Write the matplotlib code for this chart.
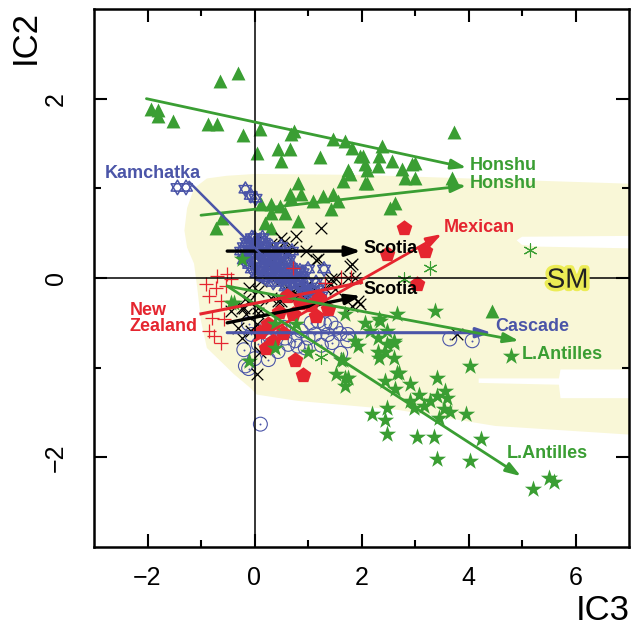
import numpy as np
import matplotlib
matplotlib.use("Agg")
import matplotlib.pyplot as plt
from matplotlib.path import Path
from matplotlib.patches import Polygon
import matplotlib.patheffects as pe

plt.rcParams['font.family'] = ['Liberation Sans', 'DejaVu Sans']

# ---- data ----
honshu_x = [-0.65, -0.31, -1.94, -1.80, -1.80, -1.52, -0.87, -0.70, -0.22, 0.11, 0.74, 0.69,
            0.04, 0.43, 0.67, 0.50, 1.22, 1.46, 1.70, 1.83, 2.02, 1.74, 1.65, 1.78, 2.06, 2.07,
            0.81, 0.67, 0.87, 0.69, 1.09, 1.28, 1.46, 1.56, 1.43, 0.81, 0.31, 0.13, 0.30, 0.48,
            0.57, 0.20, 0.31, -0.61, -0.72, 1.98, 2.33, 2.30, 2.11, 2.76, 2.94, 2.81, 3.00, 2.11,
            3.69, 2.54, 2.63, 4.43, 3.72, 2.39, 2.57, 3.00]
honshu_y = [2.20, 2.29, 1.89, 1.87, 1.81, 1.75, 1.72, 1.72, 1.60, 1.66, 1.64, 1.61,
            1.39, 1.44, 1.44, 1.31, 1.35, 1.55, 1.53, 1.45, 1.36, 1.20, 1.08, 1.16, 1.27, 1.06,
            1.06, 0.94, 0.94, 0.89, 0.86, 0.92, 0.94, 0.86, 0.77, 0.64, 0.83, 0.83, 0.73, 0.80,
            0.72, 0.61, 0.56, 0.67, 0.56, 1.36, 1.36, 1.25, 1.20, 1.22, 1.27, 1.11, 1.11, 1.06,
            1.12, 0.78, 0.84, -0.37, 1.63, 1.47, 1.31, 1.28]

kamchatka_x = [-1.44, -1.28, -0.17, -0.07, 0.02,
               -0.20, -0.10, 0.00, 0.10, 0.20, 0.30, -0.15, -0.05, 0.05, 0.15, 0.25, 0.35, 0.45,
               -0.10, 0.00, 0.10, 0.20, 0.30, 0.40, 0.50, 0.60, 0.05, 0.15, 0.25, 0.35, 0.45,
               0.55, 0.65, 0.70, 0.80, 0.90, 1.00, 1.10, 1.20, 0.75, 0.95, 1.25, 0.60, 0.40,
               0.55, 0.65, 0.70, 1.00, -0.05, 0.50, 0.85, 0.90, 1.30,
               -0.25, -0.20, -0.15, 0.00, 0.08, 0.12, 0.18, 0.22, 0.28, 0.32, 0.38, 0.42, 0.48,
               0.52, 0.58, 0.62, 0.68, 0.72, 0.78, 0.82, 0.88, 0.92, 0.98, 1.05, 1.15, 1.18,
               0.35, 0.20, -0.05, 0.08, -0.12, 0.15, 0.45, 0.58, 0.30, 0.10]
kamchatka_y = [1.01, 1.01, 0.99, 0.92, 0.89,
               0.35, 0.40, 0.38, 0.42, 0.35, 0.30, 0.25, 0.28, 0.30, 0.25, 0.22, 0.25, 0.20,
               0.15, 0.18, 0.12, 0.15, 0.10, 0.12, 0.15, 0.10, 0.05, 0.02, 0.05, 0.00, 0.02,
               0.00, 0.05, -0.05, -0.02, -0.10, -0.05, -0.15, -0.10, -0.15, -0.20, -0.20, -0.08, 0.30,
               0.28, 0.20, 0.30, 0.10, 0.45, 0.35, 0.08, 0.06, 0.10,
               0.30, 0.20, 0.40, 0.45, 0.35, 0.28, 0.40, 0.20, 0.12, 0.35, 0.18, 0.05, 0.25,
               0.08, 0.18, -0.02, 0.12, 0.02, 0.08, -0.08, 0.00, -0.15, -0.12, -0.20, -0.05, -0.22,
               -0.05, 0.00, 0.10, 0.20, 0.32, 0.45, 0.10, -0.10, 0.20, 0.08]

scotia_x = [0.50, 0.78, 1.24, 0.96, 1.19, 1.78, 1.15, 1.83, 1.43, 1.31, 1.50, 1.13, 1.00, 1.19,
            0.87, 0.72, 0.13, 0.07, 0.31, 0.50, 0.07, -0.11, -0.11, -0.15, -0.24, 1.83, 1.98,
            1.74, 1.50, 1.87, 1.93, 1.43, 0.94, 0.44, -0.17, -0.20, -0.43, 0.04, -0.07, 0.11,
            0.07, 0.04, -0.30, -0.24, 3.78,
            0.00, 0.10, 0.20, 0.30, 0.40, 0.10, 0.25, 0.00, -0.10, 0.35, 0.50, 0.60, 0.15,
            0.30, 0.00, 0.45, 0.60, 0.70, 0.85, 0.80, 1.00, 1.10, 0.55, 0.70]
scotia_y = [0.45, 0.47, 0.56, 0.30, 0.21, 0.13, 0.20, 0.16, -0.01, -0.11, -0.12, -0.11, -0.07,
            -0.22, -0.22, -0.15, -0.03, -0.15, -0.22, -0.26, -0.34, -0.11, -0.26, -0.40, -0.34,
            -0.31, -0.29, 0.00, 0.00, 0.00, -0.26, -0.07, -0.11, -0.26, -0.23, -0.34, -0.37,
            -0.51, -0.59, -0.82, -0.39, -1.07, -0.56, -0.67, -0.63,
            0.40, 0.35, 0.30, 0.38, 0.30, 0.20, 0.15, 0.25, 0.20, 0.20, 0.20, 0.25, 0.05,
            0.00, 0.08, -0.05, -0.10, -0.05, -0.10, -0.20, -0.20, -0.25, 0.40, 0.35]

nz_x = [-0.70, -0.52, -0.44, -0.91, -0.72, -0.54, -0.85, -0.63, -0.80, -0.57, -0.85, -0.76,
        -0.63, 0.72, 1.61, 1.80, 1.31]
nz_y = [0.02, 0.04, -0.01, -0.07, -0.11, -0.09, -0.20, -0.26, -0.45, -0.46, -0.59, -0.65,
        -0.73, 0.11, 0.01, 0.01, -0.06]

mexican_x = [2.80, 2.48, 3.19, 3.04, 0.26, 0.22, 0.76, 0.91, 0.54, 1.37, 0.72, 0.60, 0.85,
             1.05, 1.20, 0.45, 1.15, 0.10, 0.35]
mexican_y = [0.56, 0.27, 0.30, -0.07, -0.51, -0.78, -0.91, -1.08, -0.61, -0.35, -0.40, -0.20,
             -0.28, -0.30, -0.22, -0.38, -0.42, -0.60, -0.70]

cascade_x = [-0.06, -0.11, 0.31, 0.57, 0.87, 1.06, 1.19, 1.31, 1.43, 1.52, 1.37, 1.13, 1.00,
             0.76, 0.63, 0.44, 0.26, 0.07, 1.74, 1.61, 0.26, 1.74, 0.13, -0.11, 0.48, -0.17,
             0.11, 0.81, 0.95, 1.25, 1.45, 0.55, 1.60, -0.20, 0.00, 3.65, 4.07]
cascade_y = [-0.63, -1.01, -0.74, -0.67, -0.59, -0.50, -0.48, -0.51, -0.50, -0.56, -0.63, -0.63,
             -0.67, -0.70, -0.74, -0.82, -0.70, -0.74, -0.70, -0.84, -0.91, -0.63, -0.59, -0.51,
             -0.57, -0.98, -1.63, -0.76, -0.78, -0.75, -0.72, -0.55, -0.62, -0.80, -0.90, -0.68,
             -0.70]

antilles_x = [1.87, 2.30, 2.48, 2.61, 2.33, 2.61, 1.61, 1.52, 1.69, 1.70, 2.67, 2.44, 2.63,
              2.91, 3.07, 2.91, 2.98, 3.17, 3.28, 3.41, 3.56, 3.59, 3.41, 3.54, 3.65, 3.44,
              3.96, 4.02, 4.24, 2.48, 2.20, 2.44, 2.48, 3.04, 3.35, 3.41, 4.02, 5.20, 5.50,
              5.59, 4.80, 3.37, 2.67, 2.33, 2.07, 2.15, 2.48, 2.30, 2.61, 2.70, -0.24, -0.44,
              -0.11, 0.39, 0.78, 1.69, 2.35, 1.93, 1.00, 0.39, 1.65, 1.74, 2.43, -0.39]
antilles_y = [-0.70, -0.82, -0.74, -0.73, -0.89, -0.89, -0.91, -1.07, -1.12, -1.21, -1.06,
              -1.15, -1.24, -1.18, -1.30, -1.37, -1.45, -1.43, -1.37, -1.32, -1.26, -1.34,
              -1.12, -1.46, -1.49, -1.56, -1.52, -0.98, -1.80, -1.45, -1.52, -1.58, -1.74,
              -1.77, -1.77, -2.02, -2.04, -2.35, -2.23, -2.27, -0.87, -0.37, -0.40, -0.46,
              -0.50, -0.59, -0.59, -0.67, -0.70, -1.06, 0.21, -0.28, -0.93, -0.51, -0.51,
              -0.40, -0.48, -0.76, -0.82, -0.78, -0.91, -1.12, -0.82, -0.28]

other_x = [5.15, 3.28, 2.80, 1.24]
other_y = [0.31, 0.11, -0.01, -0.88]

# trend arrows: (x0, y0, x1, y1)
honshu_arrows = [(-2.02, 2.00, 3.96, 1.23), (-1.00, 0.70, 3.96, 1.03)]
scotia_arrows = [(-0.51, 0.30, 1.99, 0.30), (-0.51, -0.50, 1.99, -0.20)]
mexican_arrow = (0.00, -0.70, 3.50, 0.49)
nz_line = (-1.00, -0.40, 2.00, -0.05)
kamchatka_line = (-1.22, 1.07, 0.40, 0.10)
cascade_arrow = (-0.51, -0.61, 4.43, -0.61)
antilles_arrows = [(-0.51, -0.09, 4.94, -0.70), (-0.51, -0.09, 4.98, -2.21)]

# shaded field and gaps in it
band_x = [0, -0.52, -0.89, -1.13, -1.26, -1.31, -1.26, -1.13, -1.07, -1.0, -0.89, -0.63, -0.39,
          -0.07, 0.04, 0.8, 2.67, 4.5, 7.1, 7.1, 4.5, 2.0]
band_y = [1.16, 1.14, 1.11, 1.0, 0.78, 0.53, 0.34, 0.16, -0.11, -0.48, -0.78, -0.93, -1.07,
          -1.23, -1.30, -1.37, -1.47, -1.65, -1.75, 1.05, 1.10, 1.15]
gap1_x = [4.9, 5.0, 7.1, 7.1, 5.3, 5.0]
gap1_y = [0.42, 0.46, 0.47, 0.33, 0.35, 0.37]
gap2_x = [4.19, 5.69, 5.72, 7.1, 7.1, 5.72, 5.69, 4.19]
gap2_y = [-1.12, -1.12, -1.02, -1.02, -1.34, -1.34, -1.19, -1.17]

GREEN = '#3a9e33'
BLUE = '#4b55a8'
RED = '#e5252f'

fig = plt.figure(figsize=(6.32, 6.30), dpi=100)
ax = fig.add_axes([94/632, 1-547/630, 535/632, 538/630])
ax.set_xlim(-3, 7)
ax.set_ylim(-3, 3)

ax.add_patch(Polygon(np.column_stack([band_x, band_y]), closed=True, fc='#f9f7d7', ec='none', zorder=0))
ax.add_patch(Polygon(np.column_stack([gap1_x, gap1_y]), closed=True, fc='white', ec='none', zorder=0.5))
ax.add_patch(Polygon(np.column_stack([gap2_x, gap2_y]), closed=True, fc='white', ec='none', zorder=0.5))

ax.axhline(0, color='black', lw=1.1, zorder=3)
ax.axvline(0, color='black', lw=1.1, zorder=3)

# hexagram marker
tri = np.array([[0, 1], [-0.866, -0.5], [0.866, -0.5], [0, 1]])
hexagram = Path.make_compound_path(Path(tri, closed=True), Path(-tri, closed=True))

ax.scatter(honshu_x, honshu_y, marker='^', s=100, color=GREEN, lw=0, zorder=2)
ax.scatter(cascade_x, cascade_y, marker='o', s=100, facecolor='none', edgecolor=BLUE, lw=0.8, zorder=2)
ax.scatter(cascade_x, cascade_y, marker='o', s=2, color=BLUE, lw=0, zorder=2)
ax.scatter(scotia_x, scotia_y, marker='x', s=70, color='black', lw=0.9, zorder=2)
ax.scatter(kamchatka_x, kamchatka_y, marker=hexagram, s=110, facecolor='none', edgecolor=BLUE, lw=1.1, zorder=2)
ax.scatter(mexican_x, mexican_y, marker='p', s=140, color=RED, lw=0, zorder=2)
ax.scatter(nz_x, nz_y, marker='+', s=110, color=RED, lw=0.9, zorder=2)
ax.scatter(antilles_x, antilles_y, marker='*', s=170, color=GREEN, lw=0, zorder=2)
ax.scatter(other_x, other_y, marker=(6, 2, 0), s=90, color=GREEN, lw=0.8, zorder=2)


def arrow(seg, color, lw=2.0):
    ax.annotate('', xy=seg[2:], xytext=seg[:2],
                arrowprops=dict(arrowstyle='-|>,head_length=0.9,head_width=0.3', color=color,
                                lw=lw, shrinkA=0, shrinkB=0), zorder=4)


for seg in honshu_arrows:
    arrow(seg, GREEN)
for seg in scotia_arrows:
    arrow(seg, 'black', 2.4)
arrow(mexican_arrow, RED)
arrow(cascade_arrow, BLUE, 2.2)
for seg in antilles_arrows:
    arrow(seg, GREEN)
ax.plot(nz_line[::2], nz_line[1::2], color=RED, lw=2.2, zorder=4)
ax.plot(kamchatka_line[::2], kamchatka_line[1::2], color=BLUE, lw=1.8, zorder=4)

lab = dict(fontsize=13, fontweight='bold', va='center', ha='left', zorder=5)
ax.text(4.02, 1.25, 'Honshu', color=GREEN, **lab)
ax.text(4.02, 1.05, 'Honshu', color=GREEN, **lab)
ax.text(3.53, 0.56, 'Mexican', color=RED, **lab)
ax.text(2.04, 0.33, 'Scotia', color='black', **lab)
ax.text(2.04, -0.13, 'Scotia', color='black', **lab)
ax.text(4.5, -0.54, 'Cascade', color=BLUE, **lab)
ax.text(5.0, -0.85, 'L.Antilles', color=GREEN, **lab)
ax.text(4.72, -1.96, 'L.Antilles', color=GREEN, **lab)
ax.text(-2.8, 1.16, 'Kamchatka', color=BLUE, **lab)
ax.text(-2.33, -0.45, 'New\nZealand', color=RED, linespacing=0.95, **lab)
ax.text(5.85, -0.03, 'SM', fontsize=20, color='#222222', ha='center', va='center', zorder=5,
        path_effects=[pe.withStroke(linewidth=5, foreground='#ecec55')])

ax.set_xticks([-2, 0, 2, 4, 6])
ax.set_xticks([-1, 1, 3, 5], minor=True)
ax.set_yticks([-2, 0, 2])
ax.set_yticks([-1, 1], minor=True)
ax.set_xticklabels(['\u22122', '0', '2', '4', '6'])
ax.set_yticklabels(['\u22122', '0', '2'], rotation=90, va='center')
ax.tick_params(which='both', direction='in', top=True, right=True, width=1.5, labelsize=18)
ax.tick_params(which='major', length=9.5)
ax.tick_params(which='minor', length=5)
ax.tick_params(axis='x', pad=14)
ax.tick_params(axis='y', pad=19)
for s in ax.spines.values():
    s.set_linewidth(1.8)

fig.text(25/632, 1-37/630, 'IC2', fontsize=25, rotation=90, ha='center', va='center')
fig.text(603/632, 1-610/630, 'IC3', fontsize=25, ha='center', va='center')

fig.savefig('out.png', dpi=100)
